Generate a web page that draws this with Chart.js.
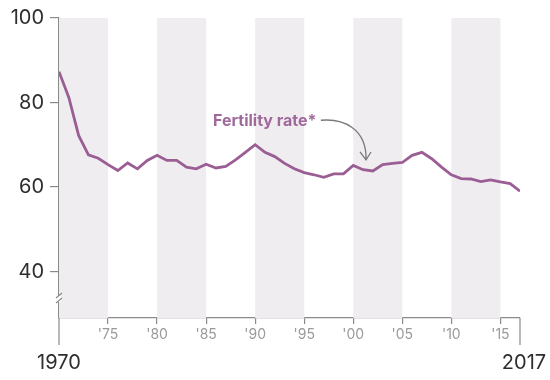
<!DOCTYPE html>
<html><head><meta charset="utf-8">
<script src="https://cdn.jsdelivr.net/npm/chart.js@4/dist/chart.umd.min.js"></script>
<style>html,body{margin:0;padding:0;background:#fff}#wrap{width:550px;height:380px}</style>
</head><body><div id="wrap"><canvas id="c" width="550" height="380"></canvas></div>
<script>
const years = [1970,1971,1972,1973,1974,1975,1976,1977,1978,1979,1980,1981,1982,1983,1984,1985,1986,1987,1988,1989,1990,1991,1992,1993,1994,1995,1996,1997,1998,1999,2000,2001,2002,2003,2004,2005,2006,2007,2008,2009,2010,2011,2012,2013,2014,2015,2016,2017];
const fertility = [87.3,81.2,72.2,67.6,66.8,65.3,63.9,65.7,64.3,66.3,67.5,66.3,66.3,64.7,64.3,65.4,64.5,64.9,66.4,68.2,70.0,68.2,67.2,65.6,64.3,63.4,62.9,62.3,63.1,63.1,65.1,64.1,63.8,65.3,65.6,65.8,67.5,68.2,66.7,64.7,62.9,62.0,61.9,61.3,61.7,61.2,60.8,59.0];
const yTicks = [40,60,80,100];
const xTickYears = [1975,1980,1985,1990,1995,2000,2005,2010,2015];
const xTickLabels = ["'75","'80","'85","'90","'95","'00","'05","'10","'15"];
const bands = [[1970,1975],[1980,1985],[1990,1995],[2000,2005],[2010,2015]];
const startLabel = "1970", endLabel = "2017";
const annotation = "Fertility rate*";

const FONT = "Inter, 'Noto Sans', sans-serif";
const axisColor = '#8a8a8a';

const deco = {
  id:'deco',
  beforeDatasetsDraw(chart){
    const {ctx, chartArea:a, scales:{x,y}} = chart;
    ctx.save();
    ctx.fillStyle = '#efedf0';
    bands.forEach(([s,e])=>{
      const x0 = x.getPixelForValue(s), x1 = x.getPixelForValue(e);
      ctx.fillRect(x0, a.top, x1-x0, a.bottom-a.top);
    });
    ctx.restore();
  },
  afterDraw(chart){
    const {ctx, chartArea:a, scales:{x,y}} = chart;
    ctx.save();
    ctx.strokeStyle = axisColor; ctx.lineWidth = 1.2;
    const xl = x.getPixelForValue(1970), xr = x.getPixelForValue(2017);
    ctx.beginPath();
    ctx.moveTo(xl, a.bottom); ctx.lineTo(xl, a.bottom+27);
    ctx.moveTo(xr, a.bottom); ctx.lineTo(xr, a.bottom+27);
    ctx.stroke();
    // axis break
    const yb = y.getPixelForValue(33.5);
    ctx.fillStyle = '#fff';
    ctx.fillRect(xl-2, yb-3, 4, 6);
    ctx.beginPath();
    ctx.moveTo(xl-3, yb-1); ctx.lineTo(xl+3, yb-6);
    ctx.moveTo(xl-3, yb+4); ctx.lineTo(xl+3, yb-1);
    ctx.stroke();
    // start/end labels
    ctx.fillStyle = '#2e2e2e';
    ctx.font = '20px ' + FONT;
    ctx.textAlign = 'center'; ctx.textBaseline = 'middle';
    ctx.fillText(startLabel, xl, a.bottom+45);
    ctx.fillText(endLabel, xr+4, a.bottom+45);
    // annotation
    ctx.fillStyle = '#a0699b';
    ctx.font = 'bold 16px ' + FONT;
    ctx.textAlign = 'left';
    const tx = x.getPixelForValue(1985.7), ty = y.getPixelForValue(75.6);
    ctx.fillText(annotation, tx, ty);
    // arrow
    ctx.strokeStyle = '#7a7a7a'; ctx.lineWidth = 1.3;
    const ax0 = x.getPixelForValue(1996.7), ay0 = y.getPixelForValue(75.8);
    const ax1 = x.getPixelForValue(2001.3), ay1 = y.getPixelForValue(66.4);
    ctx.beginPath();
    ctx.moveTo(ax0, ay0);
    ctx.bezierCurveTo(ax0+22, ay0-2, ax1+1, ay0+8, ax1, ay1);
    ctx.moveTo(ax1-6, ay1-8); ctx.lineTo(ax1, ay1); ctx.lineTo(ax1+5, ay1-8);
    ctx.stroke();
    ctx.restore();
  }
};

new Chart(document.getElementById('c'), {
  type:'line',
  data:{ datasets:[{ data: years.map((yr,i)=>({x:yr,y:fertility[i]})), borderColor:'#9b5e94', borderWidth:2.8, pointRadius:0, tension:0, fill:false }]},
  options:{
    responsive:false, animation:false, events:[],
    layout:{padding:{top:17,right:30,left:0,bottom:0}},
    plugins:{legend:{display:false}, tooltip:{enabled:false}},
    scales:{
      x:{ type:'linear', min:1970, max:2017,
        afterBuildTicks(s){ s.ticks = xTickYears.map(v=>({value:v})); },
        afterFit(s){ s.height = 62; },
        ticks:{ autoSkip:false, maxRotation:0, color:'#9a9a9a', padding:2, font:{family:FONT, size:14},
          callback(v){ const i = xTickYears.indexOf(v); return i>=0 ? xTickLabels[i] : ''; } },
        grid:{ drawOnChartArea:false, drawTicks:true, tickLength:6, color:axisColor, lineWidth:1.2 },
        border:{ display:true, color:axisColor, width:1.2 }
      },
      y:{ min:29, max:100,
        afterBuildTicks(s){ s.ticks = yTicks.map(v=>({value:v})); },
        afterFit(s){ s.width = 59; },
        ticks:{ color:'#2e2e2e', padding:6, font:{family:FONT, size:20} },
        grid:{ drawOnChartArea:false, drawTicks:true, tickLength:9, color:axisColor, lineWidth:1.2 },
        border:{ display:true, color:axisColor, width:1.2 }
      }
    }
  },
  plugins:[deco]
});
</script></body></html>
